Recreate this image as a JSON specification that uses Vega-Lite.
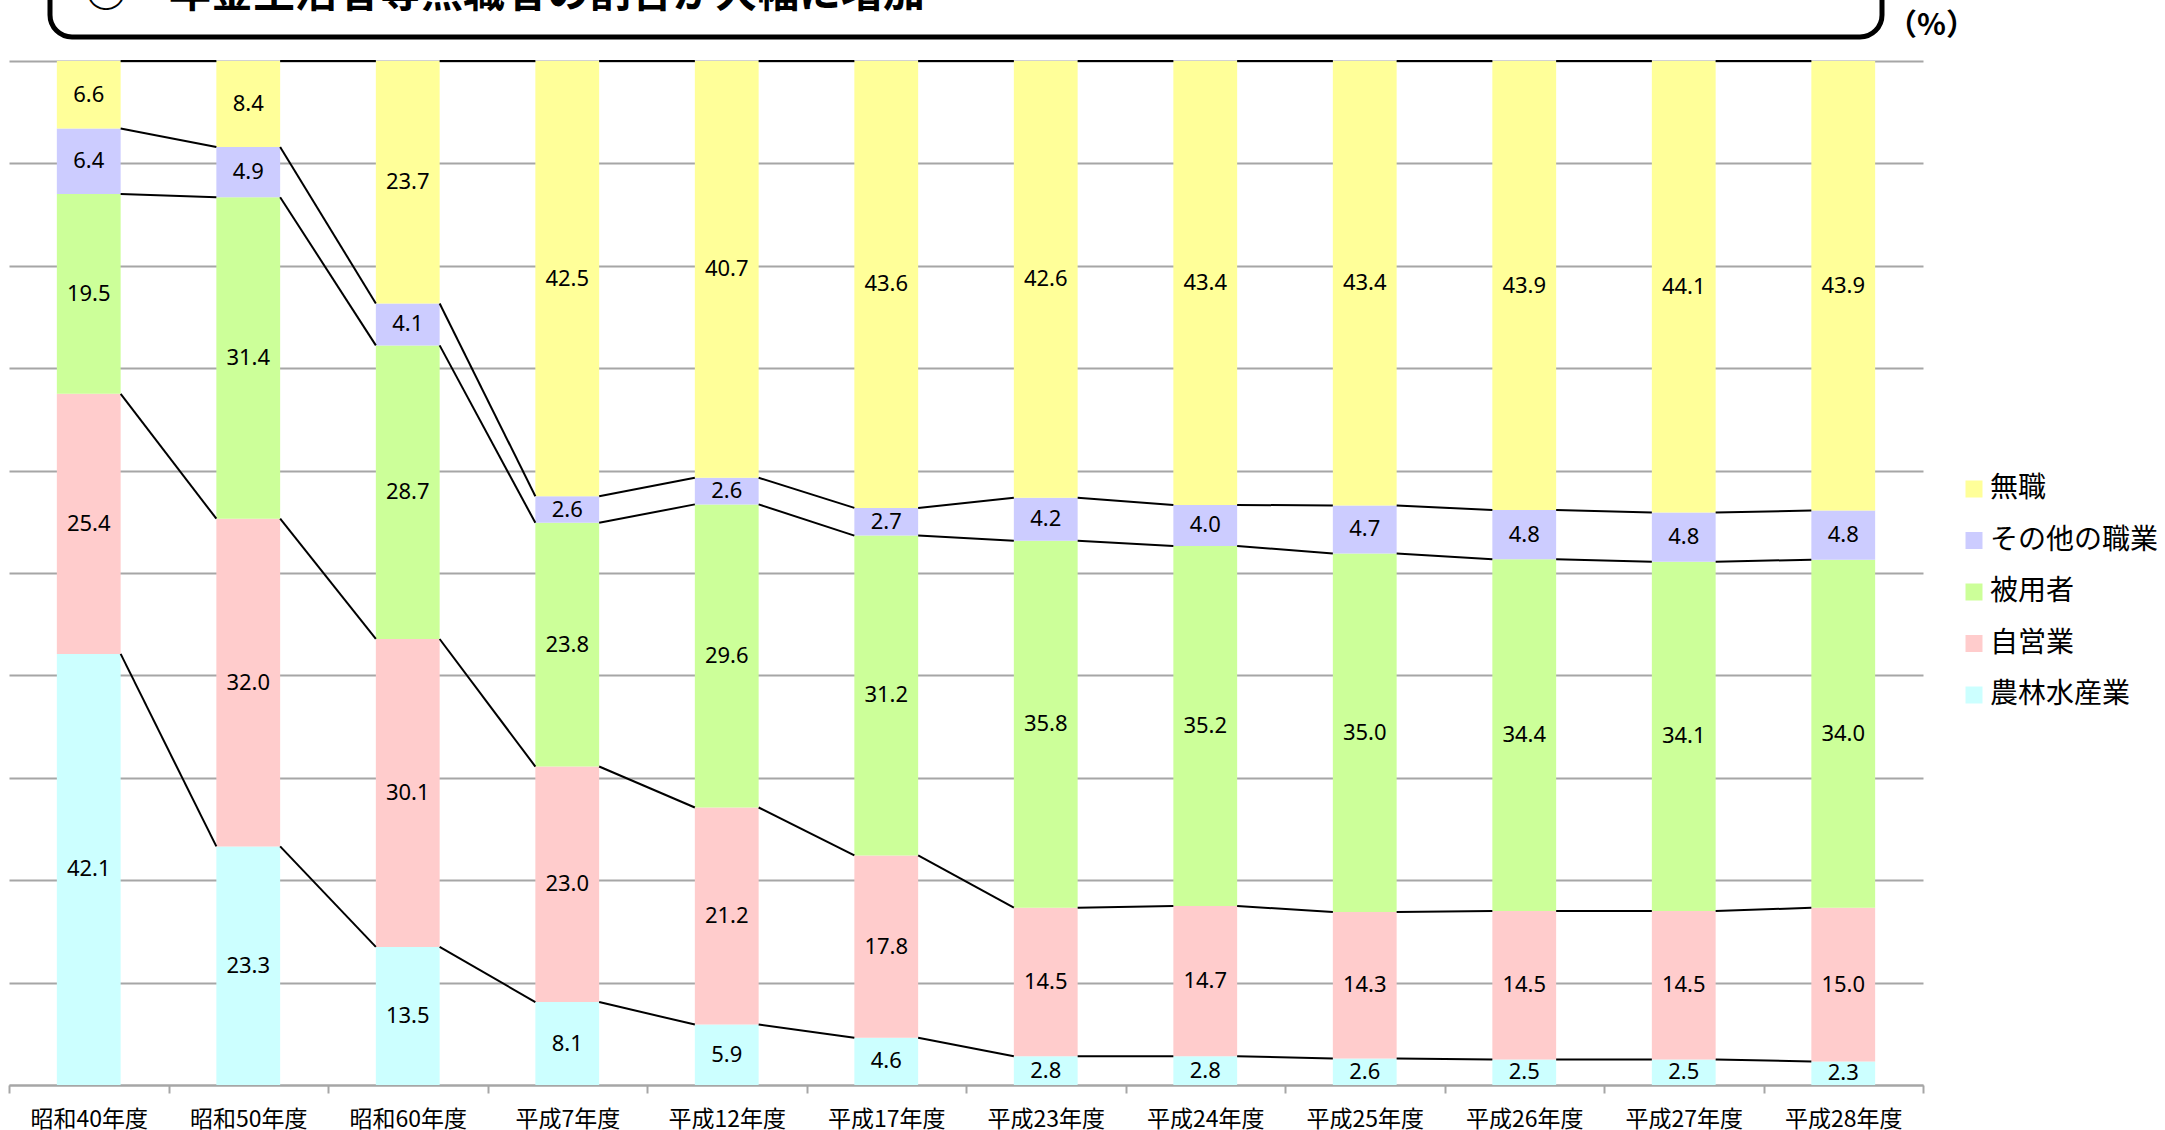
{
  "$schema": "https://vega.github.io/schema/vega-lite/v6.json",
  "padding": {"left": 8, "top": -46, "right": 0, "bottom": 10},
  "background": "white",
  "config": {"view": {"stroke": null}, "font": "Noto Sans CJK JP"},
  "spacing": 104,
  "bounds": "flush",
  "vconcat": [
    {
      "spacing": 0,
      "bounds": "flush",
      "hconcat": [
        {
          "width": 41,
          "height": 80,
          "data": {"values": [{}]},
          "mark": {"type": "text"},
          "encoding": {"text": {"value": ""}}
        },
        {
          "width": 1832,
          "height": 80,
          "view": {"stroke": "black", "strokeWidth": 5, "cornerRadius": 22, "fill": "white"},
          "title": {
            "text": "○　年金生活者等無職者の割合が大幅に増加",
            "orient": "bottom",
            "anchor": "start",
            "frame": "group",
            "offset": -63,
            "dx": 35,
            "fontSize": 42,
            "font": "Noto Sans CJK JP",
            "fontWeight": "bold",
            "color": "black",
            "baseline": "top"
          },
          "data": {"values": [{}]},
          "mark": {"type": "text"},
          "encoding": {"text": {"value": ""}}
        }
      ]
    },
    {
      "width": 1914,
      "height": 1024,
      "data": {
        "values": [
          {"year": "昭和40年度", "cat": "農林水産業", "v": 42.1},
          {"year": "昭和40年度", "cat": "自営業", "v": 25.4},
          {"year": "昭和40年度", "cat": "被用者", "v": 19.5},
          {"year": "昭和40年度", "cat": "その他の職業", "v": 6.4},
          {"year": "昭和40年度", "cat": "無職", "v": 6.6},
          {"year": "昭和50年度", "cat": "農林水産業", "v": 23.3},
          {"year": "昭和50年度", "cat": "自営業", "v": 32.0},
          {"year": "昭和50年度", "cat": "被用者", "v": 31.4},
          {"year": "昭和50年度", "cat": "その他の職業", "v": 4.9},
          {"year": "昭和50年度", "cat": "無職", "v": 8.4},
          {"year": "昭和60年度", "cat": "農林水産業", "v": 13.5},
          {"year": "昭和60年度", "cat": "自営業", "v": 30.1},
          {"year": "昭和60年度", "cat": "被用者", "v": 28.7},
          {"year": "昭和60年度", "cat": "その他の職業", "v": 4.1},
          {"year": "昭和60年度", "cat": "無職", "v": 23.7},
          {"year": "平成7年度", "cat": "農林水産業", "v": 8.1},
          {"year": "平成7年度", "cat": "自営業", "v": 23.0},
          {"year": "平成7年度", "cat": "被用者", "v": 23.8},
          {"year": "平成7年度", "cat": "その他の職業", "v": 2.6},
          {"year": "平成7年度", "cat": "無職", "v": 42.5},
          {"year": "平成12年度", "cat": "農林水産業", "v": 5.9},
          {"year": "平成12年度", "cat": "自営業", "v": 21.2},
          {"year": "平成12年度", "cat": "被用者", "v": 29.6},
          {"year": "平成12年度", "cat": "その他の職業", "v": 2.6},
          {"year": "平成12年度", "cat": "無職", "v": 40.7},
          {"year": "平成17年度", "cat": "農林水産業", "v": 4.6},
          {"year": "平成17年度", "cat": "自営業", "v": 17.8},
          {"year": "平成17年度", "cat": "被用者", "v": 31.2},
          {"year": "平成17年度", "cat": "その他の職業", "v": 2.7},
          {"year": "平成17年度", "cat": "無職", "v": 43.6},
          {"year": "平成23年度", "cat": "農林水産業", "v": 2.8},
          {"year": "平成23年度", "cat": "自営業", "v": 14.5},
          {"year": "平成23年度", "cat": "被用者", "v": 35.8},
          {"year": "平成23年度", "cat": "その他の職業", "v": 4.2},
          {"year": "平成23年度", "cat": "無職", "v": 42.6},
          {"year": "平成24年度", "cat": "農林水産業", "v": 2.8},
          {"year": "平成24年度", "cat": "自営業", "v": 14.7},
          {"year": "平成24年度", "cat": "被用者", "v": 35.2},
          {"year": "平成24年度", "cat": "その他の職業", "v": 4.0},
          {"year": "平成24年度", "cat": "無職", "v": 43.4},
          {"year": "平成25年度", "cat": "農林水産業", "v": 2.6},
          {"year": "平成25年度", "cat": "自営業", "v": 14.3},
          {"year": "平成25年度", "cat": "被用者", "v": 35.0},
          {"year": "平成25年度", "cat": "その他の職業", "v": 4.7},
          {"year": "平成25年度", "cat": "無職", "v": 43.4},
          {"year": "平成26年度", "cat": "農林水産業", "v": 2.5},
          {"year": "平成26年度", "cat": "自営業", "v": 14.5},
          {"year": "平成26年度", "cat": "被用者", "v": 34.4},
          {"year": "平成26年度", "cat": "その他の職業", "v": 4.8},
          {"year": "平成26年度", "cat": "無職", "v": 43.9},
          {"year": "平成27年度", "cat": "農林水産業", "v": 2.5},
          {"year": "平成27年度", "cat": "自営業", "v": 14.5},
          {"year": "平成27年度", "cat": "被用者", "v": 34.1},
          {"year": "平成27年度", "cat": "その他の職業", "v": 4.8},
          {"year": "平成27年度", "cat": "無職", "v": 44.1},
          {"year": "平成28年度", "cat": "農林水産業", "v": 2.3},
          {"year": "平成28年度", "cat": "自営業", "v": 15.0},
          {"year": "平成28年度", "cat": "被用者", "v": 34.0},
          {"year": "平成28年度", "cat": "その他の職業", "v": 4.8},
          {"year": "平成28年度", "cat": "無職", "v": 43.9}
        ]
      },
      "layer": [
        {
          "transform": [
            {"stack": "v", "groupby": ["year"], "as": ["s0", "s1"], "offset": "normalize"}
          ],
          "mark": {"type": "bar", "width": {"band": 0.4}},
          "encoding": {
            "x": {
              "field": "year",
              "type": "ordinal",
              "scale": {
                "domain": ["昭和40年度", "昭和50年度", "昭和60年度", "平成7年度", "平成12年度", "平成17年度", "平成23年度", "平成24年度", "平成25年度", "平成26年度", "平成27年度", "平成28年度"],
                "paddingInner": 0,
                "paddingOuter": 0
              },
              "axis": {
                "title": null,
                "labelAngle": 0,
                "tickBand": "extent",
                "tickSize": 8,
                "tickColor": "#a6a6a6",
                "tickWidth": 2,
                "domainColor": "#a6a6a6",
                "domainWidth": 2,
                "labelFontSize": 23,
                "labelFont": "Noto Sans CJK JP",
                "labelColor": "black",
                "labelPadding": 15,
                "grid": false
              }
            },
            "y": {
              "field": "s0",
              "type": "quantitative",
              "scale": {"domain": [0, 1], "nice": false},
              "axis": {
                "orient": "right",
                "grid": true,
                "values": [0, 0.1, 0.2, 0.3, 0.4, 0.5, 0.6, 0.7, 0.8, 0.9, 1],
                "labels": false,
                "ticks": false,
                "domain": false,
                "gridColor": "#a6a6a6",
                "gridWidth": 2,
                "title": "（%）",
                "titleAngle": 0,
                "titleX": 8,
                "titleY": -36,
                "titleAlign": "center",
                "titleBaseline": "middle",
                "titleFontSize": 30,
                "titleFontWeight": "bold",
                "titleFont": "Noto Sans CJK JP",
                "titleColor": "black"
              }
            },
            "y2": {"field": "s1"},
            "color": {
              "field": "cat",
              "type": "nominal",
              "scale": {
                "domain": ["無職", "その他の職業", "被用者", "自営業", "農林水産業"],
                "range": ["#FFFF99", "#CCCCFF", "#CCFF99", "#FFCCCC", "#CCFFFF"]
              },
              "legend": {
                "title": null,
                "orient": "none",
                "legendX": 1951,
                "legendY": 518,
                "symbolType": "square",
                "symbolSize": 289,
                "symbolStrokeWidth": 0,
                "symbolOpacity": 1,
                "labelFontSize": 28,
                "labelFont": "Noto Sans CJK JP",
                "labelColor": "black",
                "labelLimit": 400,
                "rowPadding": 23.5,
                "labelOffset": 2,
                "padding": 0
              }
            }
          }
        },
        {
          "transform": [
            {"stack": "v", "groupby": ["year"], "as": ["s0", "s1"], "offset": "normalize"},
            {"window": [{"op": "lead", "field": "s1", "as": "n1"}, {"op": "lead", "field": "year", "as": "ny"}], "groupby": ["cat"]},
            {"filter": "datum.ny != null"}
          ],
          "mark": {"type": "rule", "color": "black", "strokeWidth": 2},
          "encoding": {
            "x": {"field": "year", "type": "ordinal", "bandPosition": 0.7, "title": null},
            "x2": {"field": "ny", "bandPosition": 0.3},
            "y": {"field": "s1", "type": "quantitative"},
            "y2": {"field": "n1"}
          }
        },
        {
          "transform": [
            {"stack": "v", "groupby": ["year"], "as": ["s0", "s1"], "offset": "normalize"},
            {"fold": ["s0", "s1"], "as": ["edge", "pos"]},
            {"aggregate": [{"op": "mean", "field": "pos", "as": "mid"}], "groupby": ["year", "cat", "v"]}
          ],
          "mark": {"type": "text", "font": "Noto Sans", "fontSize": 22, "color": "black"},
          "encoding": {
            "x": {"field": "year", "type": "ordinal", "title": null},
            "y": {"field": "mid", "type": "quantitative"},
            "text": {"field": "v", "type": "quantitative", "format": ".1f"}
          }
        }
      ]
    }
  ]
}
